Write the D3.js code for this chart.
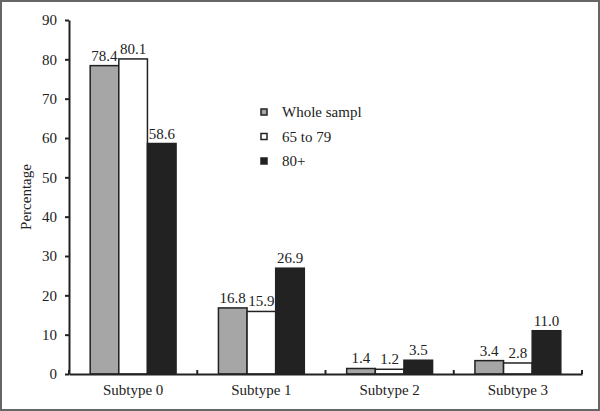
<!DOCTYPE html>
<html><head><meta charset="utf-8">
<script src="https://cdn.jsdelivr.net/npm/d3@7"></script>
<style>body{margin:0;background:#fff}svg{display:block}</style>
</head><body><svg id="c" width="600" height="411"></svg>
<script>
const categories = ["Subtype 0","Subtype 1","Subtype 2","Subtype 3"];
const seriesNames = ["Whole sampl","65 to 79","80+"];
const wholeSample = [78.4, 16.8, 1.4, 3.4];
const age65to79 = [80.1, 15.9, 1.2, 2.8];
const age80plus = [58.6, 26.9, 3.5, 11.0];
const yTicks = [0,10,20,30,40,50,60,70,80,90];
const colors = ["#a6a6a6","#ffffff","#222222"];
const series = [wholeSample, age65to79, age80plus];
const FONT = "'Liberation Serif', 'DejaVu Serif', serif";

const svg = d3.select("#c");
svg.append("rect").attr("x",1).attr("y",1).attr("width",598).attr("height",409)
  .attr("fill","#fff").attr("stroke","#666").attr("stroke-width",2);

const mLeft = 69, mRight = 582, mTop = 20, mBottom = 374;
const x = d3.scaleBand().domain(categories).range([mLeft,mRight]).paddingInner(0).paddingOuter(0);
const xs = d3.scaleBand().domain(d3.range(3)).range([0,x.bandwidth()]).paddingInner(0).paddingOuter(0.74);
const y = d3.scaleLinear().domain([0,90]).range([mBottom,mTop]);

// bars
categories.forEach((c,i)=>{
  const g = svg.append("g").attr("transform",`translate(${x(c)},0)`);
  series.forEach((s,j)=>{
    g.append("rect").attr("x",xs(j)).attr("y",y(s[i])).attr("width",xs.bandwidth()).attr("height",y(0)-y(s[i]))
      .attr("fill",colors[j]).attr("stroke","#222").attr("stroke-width",1.5);
    g.append("text").attr("x",xs(j)+xs.bandwidth()/2).attr("y",y(s[i])-5).attr("text-anchor","middle")
      .style("font-family",FONT).style("font-size","15px").style("fill","#222").text(s[i].toFixed(1));
  });
});

// y axis
const ya = svg.append("g").attr("transform",`translate(${mLeft},0)`)
  .call(d3.axisLeft(y).tickValues(yTicks).tickSize(4).tickPadding(8).tickSizeOuter(0));
ya.select(".domain").attr("stroke","#222").attr("stroke-width",2);
ya.selectAll(".tick line").attr("stroke","#222").attr("stroke-width",2);
ya.selectAll("text").style("font-family",FONT).style("font-size","15px").style("fill","#222");

// x axis
const xa = svg.append("g").attr("transform",`translate(0,${mBottom})`)
  .call(d3.axisBottom(x).tickSize(0).tickPadding(10));
xa.select(".domain").attr("stroke","#222").attr("stroke-width",2);
xa.selectAll("text").style("font-family",FONT).style("font-size","15px").style("fill","#222");
const bounds = categories.map(c=>x(c)).concat([mRight]);
svg.selectAll(".xt").data(bounds).enter().append("line")
  .attr("x1",d=>d).attr("x2",d=>d).attr("y1",mBottom).attr("y2",mBottom-4)
  .attr("stroke","#222").attr("stroke-width",2);

// y title
svg.append("text").attr("transform",`translate(31,${(mTop+mBottom)/2}) rotate(-90)`)
  .attr("text-anchor","middle").style("font-family",FONT).style("font-size","15px").style("fill","#222").text("Percentage");

// legend
const lg = svg.append("g").attr("transform","translate(261,109)");
seriesNames.forEach((n,j)=>{
  lg.append("rect").attr("x",0).attr("y",j*24.5).attr("width",6).attr("height",6)
    .attr("fill",colors[j]).attr("stroke","#222").attr("stroke-width",1.5);
  lg.append("text").attr("x",21).attr("y",j*24.5+8).style("font-family",FONT).style("font-size","15px").style("fill","#222").text(n);
});
</script></body></html>
